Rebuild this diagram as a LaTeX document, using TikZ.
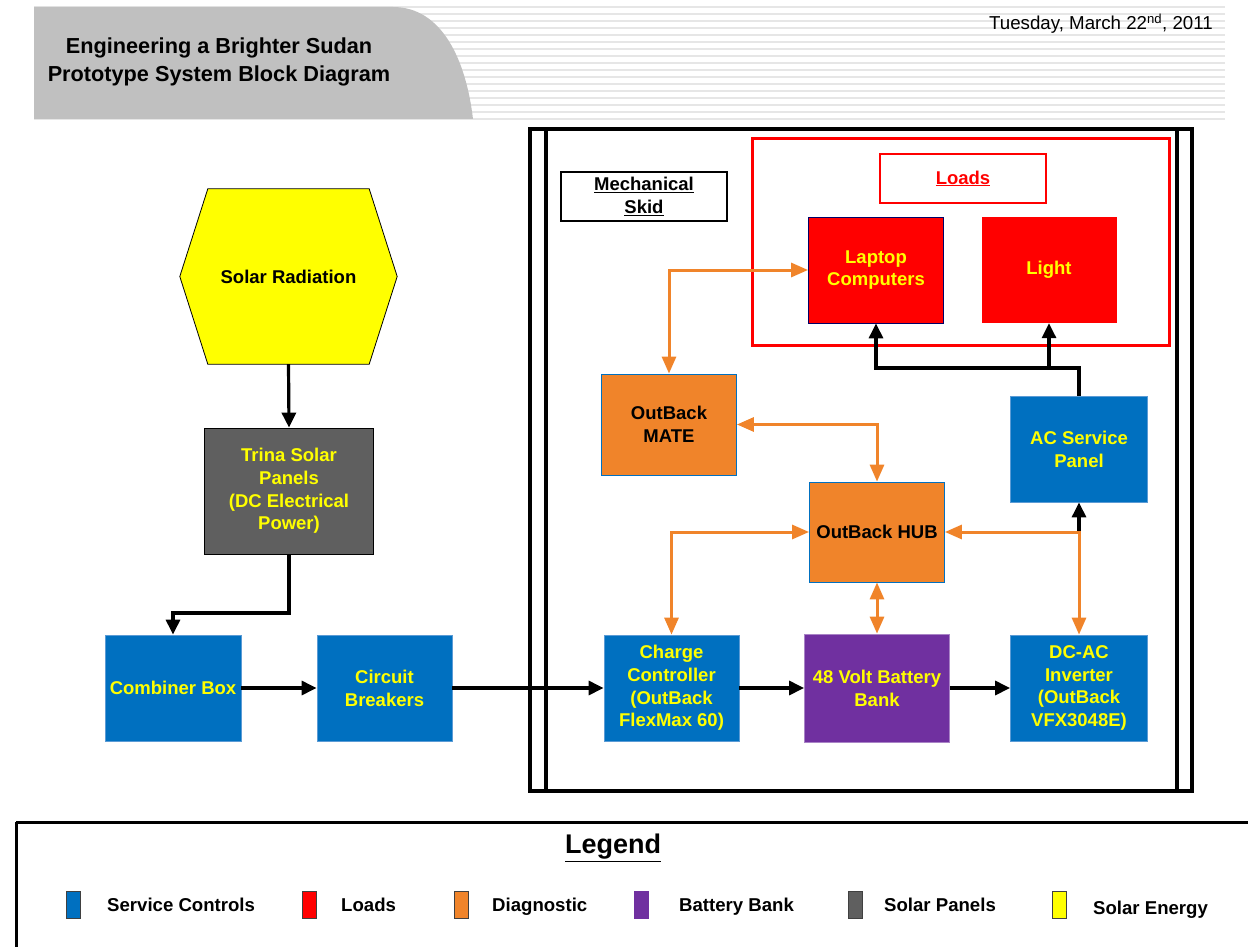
\documentclass[tikz,border=0pt]{standalone}
\usepackage{fontspec}
\setmainfont{Liberation Sans}
\usetikzlibrary{arrows.meta,backgrounds}
\definecolor{cblue}{HTML}{0070C0}
\definecolor{cblueedge}{HTML}{5B9BD5}
\definecolor{corange}{HTML}{F0842A}
\definecolor{cpurple}{HTML}{7030A0}
\definecolor{cgray}{HTML}{5F5F5F}
\definecolor{cred}{HTML}{FF0000}
\definecolor{cyel}{HTML}{FFFF00}
\definecolor{hdrgray}{HTML}{C0C0C0}
\definecolor{stripecol}{HTML}{E6E6E6}
\tikzset{
  blockbox/.style={rectangle, inner sep=0pt, align=center,
    font=\fontsize{18.5}{22.8}\selectfont\bfseries, text=cyel},
  bluebox/.style={blockbox, fill=cblue, draw=cblueedge, line width=0.8pt},
  orangebox/.style={blockbox, fill=corange, draw=cblue, line width=0.8pt, text=black},
  redbox/.style={blockbox, fill=cred},
  purplebox/.style={blockbox, fill=cpurple, draw=cpurple!60!white, line width=0.8pt},
  graybox/.style={blockbox, fill=cgray, draw=black, line width=0.8pt},
  labelbox/.style={rectangle, inner sep=0pt, align=center,
    font=\fontsize{18.5}{22.8}\selectfont\bfseries},
  blkarrow/.style={line width=3.2pt, draw=black, -{Triangle[length=15pt,width=14pt]}},
  orarrow/.style={line width=3pt, draw=corange, color=corange,
    {Triangle[length=17pt,width=14pt]}-{Triangle[length=17pt,width=14pt]}},
  swatch/.style={rectangle, minimum width=14pt, minimum height=27pt, inner sep=0pt, draw=black!75, line width=0.8pt},
  legtext/.style={anchor=base west, inner sep=0pt, font=\fontsize{18.6}{22}\selectfont\bfseries},
}
\begin{document}
\begin{tikzpicture}[x=1pt,y=-1pt]
\clip (0,0) rectangle (1248,947);
\useasboundingbox (0,0) rectangle (1248,947);

% header stripes
\foreach \yy in {7,14,...,119}{
  \draw[stripecol, line width=1.6pt] (34,\yy) -- (1225,\yy);
}
\fill[hdrgray] (34,7) -- (393,7) .. controls (442,7) and (466,60) .. (473,119) -- (34,119) -- cycle;
\node[align=center, font=\fontsize{21.7}{28}\selectfont\bfseries] (title) at (219,62)
  {Engineering a Brighter Sudan\\Prototype System Block Diagram};
\node[anchor=east, inner sep=0pt, font=\fontsize{18.7}{22}\selectfont] (date) at (1213,24)
  {Tuesday, March 22\textsuperscript{nd}, 2011};

% mechanical skid frame
\draw[line width=4pt] (530,129) rectangle (1192,791);
\coordinate (skidLt) at (546,129);
\coordinate (skidLb) at (546,791);
\coordinate (skidRt) at (1177,129);
\coordinate (skidRb) at (1177,791);
\draw[line width=4pt] (skidLt) -- (skidLb);
\draw[line width=4pt] (skidRt) -- (skidRb);

\node[labelbox, draw=black, line width=1.5pt, minimum width=166pt, minimum height=49pt] (skid) at (644,196.5)
  {\underline{Mechanical}\\\underline{Skid}};

% loads frame
\draw[cred, line width=3pt] (752,139) rectangle (1169,345);
\node[labelbox, draw=cred, line width=1.5pt, minimum width=166pt, minimum height=49pt, text=cred] (loads) at (963,178.5)
  {\underline{Loads}};

% solar radiation hexagon
\node[blockbox, text=black, minimum width=217pt, minimum height=175pt] (solar) at (288.5,276.5) {Solar Radiation};
\begin{scope}[on background layer]
\draw[fill=cyel, line width=0.8pt] ([xshift=28pt]solar.north west) -- ([xshift=-28pt]solar.north east) -- (solar.east)
  -- ([xshift=-28pt]solar.south east) -- ([xshift=28pt]solar.south west) -- (solar.west) -- cycle;
\end{scope}

% boxes
\node[graybox, minimum width=169pt, minimum height=126pt] (trina) at (289,491)
  {Trina Solar\\Panels\\(DC Electrical\\Power)};
\node[bluebox, minimum width=136pt, minimum height=106pt] (combiner) at (173,688) {Combiner Box};
\node[bluebox, minimum width=135pt, minimum height=106pt] (circuit) at (384.5,688) {Circuit\\Breakers};
\node[bluebox, minimum width=135pt, minimum height=106pt] (cc) at (671.5,688)
  {Charge\\Controller\\(OutBack\\FlexMax 60)};
\node[purplebox, minimum width=145pt, minimum height=108pt] (battery) at (877,688) {48 Volt Battery\\Bank};
\node[bluebox, minimum width=137pt, minimum height=106pt] (inverter) at (1079,688)
  {DC-AC\\Inverter\\(OutBack\\VFX3048E)};
\node[bluebox, minimum width=137pt, minimum height=106pt] (acpanel) at (1079,449) {AC Service\\Panel};
\node[orangebox, minimum width=135pt, minimum height=100pt] (hub) at (877,532) {OutBack HUB};
\node[orangebox, minimum width=135pt, minimum height=101pt] (mate) at (669,424.5) {OutBack\\MATE};
\node[redbox, draw=black!60!blue, line width=0.8pt, minimum width=135pt, minimum height=106pt] (laptop) at (876,270)
  {Laptop\\Computers};
\node[redbox, minimum width=135pt, minimum height=106pt] (light) at (1049,270) {Light};

% black connectors
\coordinate (tcy) at (0,613);
\coordinate (jy) at (0,368);
\draw[blkarrow] (solar.south) -- (trina.north);
\draw[blkarrow] (trina.south) -- (trina.south |- tcy) -- (combiner.north |- tcy) -- (combiner.north);
\draw[blkarrow] (combiner.east) -- (circuit.west);
\draw[blkarrow] (circuit.east) -- (cc.west);
\draw[blkarrow] (cc.east) -- (battery.west);
\draw[blkarrow] (battery.east) -- (inverter.west);
\draw[blkarrow] (inverter.north |- hub.east) -- (acpanel.south);
\draw[blkarrow] (acpanel.north) -- (acpanel.north |- jy) -- (laptop.south |- jy) -- (laptop.south);
\draw[blkarrow] (light.south |- jy) -- (light.south);

% orange connectors
\draw[orarrow] (mate.north) |- (laptop.west);
\draw[orarrow] (mate.east) -| (hub.north);
\draw[orarrow] (hub.west) -| (cc.north);
\draw[orarrow] (hub.south) -- (battery.north);
\draw[orarrow] (hub.east) -| (inverter.north);

% legend
\draw[line width=3pt] (16,822) -- (1260,822);
\draw[line width=3pt] (16,822) -- (16,960);
\node[inner sep=0pt, font=\fontsize{27}{30}\selectfont\bfseries] (legend) at (613,848) {\underline{Legend}};
\node[swatch, fill=cblue] (sw1) at (73,905) {};
\node[swatch, fill=cred] (sw2) at (309,905) {};
\node[swatch, fill=corange] (sw3) at (461,905) {};
\node[swatch, fill=cpurple, draw=cpurple] (sw4) at (641,905) {};
\node[swatch, fill=cgray] (sw5) at (855,905) {};
\node[swatch, fill=cyel] (sw6) at (1059,905) {};
\node[legtext] (lt1) at (107,911.5) {Service Controls};
\node[legtext] (lt2) at (341,911.5) {Loads};
\node[legtext] (lt3) at (492,911.5) {Diagnostic};
\node[legtext] (lt4) at (679,911.5) {Battery Bank};
\node[legtext] (lt5) at (884,911.5) {Solar Panels};
\node[legtext] (lt6) at (1093,914.5) {Solar Energy};
\end{tikzpicture}
\end{document}
